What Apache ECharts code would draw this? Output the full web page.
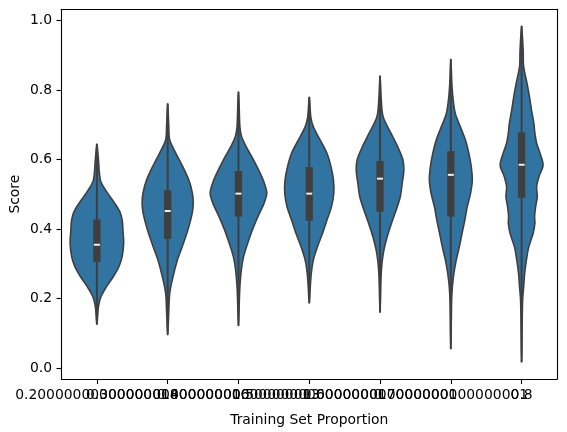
<!DOCTYPE html>
<html><head><meta charset="utf-8">
<script src="https://cdn.jsdelivr.net/npm/echarts@6/dist/echarts.min.js"></script>
<style>html,body{margin:0;padding:0;background:#fff}#c{width:567px;height:432px}</style>
</head><body><div id="c"></div>
<script>
// ---- data ----
const categories = ["0.20000000000000018", "0.30000000000000016", "0.40000000000000013",
  "0.5000000000000001", "0.6000000000000001", "0.7000000000000001", "0.8"];
const yTicks = [0.0, 0.2, 0.4, 0.6, 0.8, 1.0];
const whiskerLow  = [0.126, 0.096, 0.122, 0.187, 0.160, 0.055, 0.017];
const q1          = [0.305, 0.372, 0.436, 0.424, 0.450, 0.436, 0.490];
const median      = [0.355, 0.452, 0.502, 0.502, 0.545, 0.556, 0.585];
const q3          = [0.428, 0.512, 0.567, 0.578, 0.596, 0.624, 0.678];
const whiskerHigh = [0.645, 0.761, 0.795, 0.780, 0.841, 0.889, 0.984];
// density profiles: [score, relative density], top to bottom
const violin1 = [[0.645,0],[0.60,1.5],[0.541,3.4],[0.512,8.5],[0.474,17.5],[0.45,22.5],[0.425,24.8],[0.395,25.5],[0.36,26.2],[0.321,24.7],[0.292,21.5],[0.263,16],[0.234,9.3],[0.206,4],[0.177,1.5],[0.145,0.6],[0.126,0]];
const violin2 = [[0.761,0],[0.70,1],[0.656,2],[0.618,8],[0.59,13],[0.541,20.7],[0.503,24.2],[0.474,25],[0.446,24],[0.397,19.7],[0.349,14.2],[0.311,9.5],[0.263,5.2],[0.216,2],[0.159,1],[0.096,0]];
const violin3 = [[0.795,0],[0.74,0.8],[0.694,1.4],[0.666,3],[0.637,7.5],[0.599,14.7],[0.560,21.3],[0.532,25.3],[0.503,27.7],[0.474,25],[0.436,19],[0.397,13.5],[0.359,9],[0.321,5],[0.283,2.8],[0.235,1.4],[0.19,0.8],[0.122,0]];
const violin4 = [[0.780,0],[0.723,1.5],[0.694,4],[0.656,10.7],[0.618,17.3],[0.579,21.3],[0.541,23.7],[0.503,24],[0.464,21.7],[0.426,17.3],[0.388,13],[0.349,8],[0.311,4],[0.273,2],[0.234,1],[0.187,0]];
const violin5 = [[0.841,0],[0.771,1.2],[0.723,3],[0.675,10.8],[0.637,17.2],[0.599,22.4],[0.570,23.3],[0.532,21.7],[0.493,19.8],[0.455,15.8],[0.417,11.2],[0.378,7],[0.340,3.8],[0.302,1.9],[0.263,1],[0.16,0]];
const violin6 = [[0.889,0],[0.82,1],[0.780,2],[0.733,4.3],[0.694,9.3],[0.656,14.3],[0.617,17.7],[0.579,20],[0.541,21],[0.503,19.3],[0.464,16],[0.426,13.7],[0.388,11],[0.349,8.3],[0.311,5.3],[0.273,3],[0.234,1.5],[0.196,0.8],[0.12,0.4],[0.055,0]];
const violin7 = [[0.984,0],[0.915,1.5],[0.867,2],[0.819,5.3],[0.780,7.7],[0.742,9.7],[0.704,12],[0.675,13],[0.647,14.7],[0.618,18],[0.584,21],[0.551,17],[0.522,14.7],[0.493,15.3],[0.464,13.7],[0.436,12.7],[0.417,13],[0.388,11.3],[0.349,7],[0.311,4.7],[0.273,3],[0.234,2],[0.196,1],[0.12,0.5],[0.017,0]];
const violins = [violin1, violin2, violin3, violin4, violin5, violin6, violin7];

// ---- chart ----
const maxDensity = Math.max(...violins.map(v => Math.max(...v.map(p => p[1]))));
const FONT = 'DejaVu Sans';
const LINE = '#3f3f3f';

function renderViolin(params, api) {
  const i = api.value(0);
  const prof = violins[i];
  const band = api.size([1, 0])[0];
  const k = 0.4 * band / maxDensity;
  const right = [], left = [];
  prof.forEach(([v, d], j) => {
    const p = api.coord([i, v]);
    right.push([p[0] + d * k, p[1]]);
    if (j > 0 && j < prof.length - 1) left.push([p[0] - d * k, p[1]]);
  });
  const pts = right.concat(left.reverse());
  const top = api.coord([i, api.value(5)]);
  const bot = api.coord([i, api.value(1)]);
  const pq1 = api.coord([i, api.value(2)]);
  const pq3 = api.coord([i, api.value(4)]);
  const pm = api.coord([i, api.value(3)]);
  const bw = 7.3;
  return {
    type: 'group',
    children: [
      { type: 'polygon', shape: { points: pts, smooth: 0.3 },
        style: { fill: '#3274a1', stroke: LINE, lineWidth: 1.6 } },
      { type: 'line', shape: { x1: top[0], y1: top[1], x2: bot[0], y2: bot[1] },
        style: { stroke: LINE, lineWidth: 2 } },
      { type: 'rect', shape: { x: pq3[0] - bw / 2, y: pq3[1], width: bw, height: pq1[1] - pq3[1] },
        style: { fill: LINE } },
      { type: 'rect', shape: { x: pm[0] - 3, y: pm[1] - 1, width: 6, height: 2 },
        style: { fill: '#eeeeee' } }
    ]
  };
}

const axisLineStyle = { color: '#000', width: 1.1 };
const chart = echarts.init(document.getElementById('c'), null, { renderer: 'canvas' });
chart.setOption({
  animation: false,
  backgroundColor: '#fff',
  grid: { left: 61.5, right: 10, top: 9.3, bottom: 53, containLabel: false, outerBoundsMode: 'none' },
  xAxis: [{
    type: 'category', data: categories, boundaryGap: true, position: 'bottom',
    name: 'Training Set Proportion', nameLocation: 'middle', nameGap: 34, nameMoveOverlap: false,
    nameTextStyle: { fontFamily: FONT, fontSize: 13.9, color: '#000' },
    axisLine: { show: true, onZero: false, lineStyle: axisLineStyle },
    axisTick: { show: true, alignWithLabel: true, length: 5, lineStyle: axisLineStyle },
    axisLabel: { interval: 0, hideOverlap: false, margin: 9, color: '#000', fontFamily: FONT, fontSize: 13.9 },
    splitLine: { show: false }
  }, {
    type: 'category', data: categories, position: 'top',
    axisLine: { show: true, onZero: false, lineStyle: axisLineStyle },
    axisTick: { show: false }, axisLabel: { show: false }, splitLine: { show: false }
  }],
  yAxis: [{
    type: 'value', min: -0.031, max: 1.032, position: 'left',
    name: 'Score', nameLocation: 'middle', nameGap: 39, nameMoveOverlap: false,
    nameTextStyle: { fontFamily: FONT, fontSize: 13.9, color: '#000' },
    axisLine: { show: true, onZero: false, lineStyle: axisLineStyle },
    axisTick: { show: true, customValues: yTicks, length: 5, lineStyle: axisLineStyle },
    axisLabel: { customValues: yTicks, formatter: v => v.toFixed(1), margin: 9.5,
      color: '#000', fontFamily: FONT, fontSize: 13.9 },
    splitLine: { show: false }
  }, {
    type: 'value', min: -0.031, max: 1.032, position: 'right',
    axisLine: { show: true, onZero: false, lineStyle: axisLineStyle },
    axisTick: { show: false }, axisLabel: { show: false }, splitLine: { show: false }
  }],
  series: [{
    type: 'custom',
    coordinateSystem: 'cartesian2d',
    renderItem: renderViolin,
    encode: { x: 0, y: [1, 2, 3, 4, 5] },
    data: categories.map((c, i) => [i, whiskerLow[i], q1[i], median[i], q3[i], whiskerHigh[i]])
  }]
});
</script>
</body></html>
